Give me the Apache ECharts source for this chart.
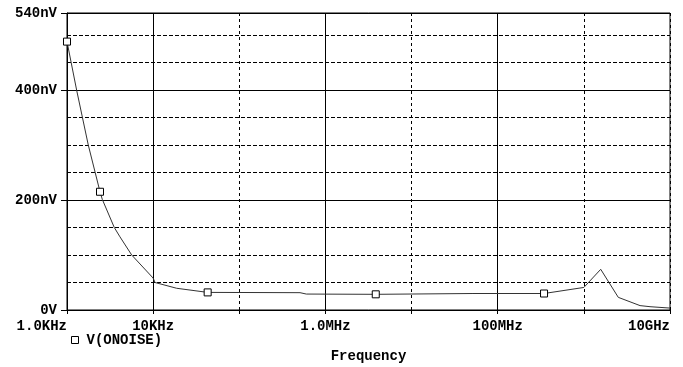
<!DOCTYPE html>
<html>
<head>
<meta charset="utf-8">
<script src="https://cdn.jsdelivr.net/npm/echarts@6/dist/echarts.min.js"></script>
<style>
  html, body { margin: 0; padding: 0; background: #fff; }
  #chart { width: 683px; height: 367px; }
</style>
</head>
<body>
<div id="chart"></div>
<script>
// Output noise V(ONOISE) versus frequency (Hz), in nV
const freqHz = [
  1000, 1297, 1766, 2416, 2570, 3540, 4120, 5636, 10000, 10520,
  18750, 42950, 507000, 600000, 3840000, 51600000, 345000000,
  1000000000, 1570000000, 2510000000, 4490000000, 5860000000, 10000000000
];
const noiseNV = [
  488, 399, 300, 215, 201, 150, 133, 100, 58, 50,
  39.5, 32, 31.5, 29, 28.5, 30, 30,
  41, 74, 23, 8, 6, 3.5
];
// indices of the points carrying the square trace marker
const markerIdx = [0, 3, 11, 14, 16];

// axis ticks and their labels
const xTickValues = [1e3, 1e4, 1e6, 1e8, 1e10];
const xTickLabels = ['1.0KHz', '10KHz', '1.0MHz', '100MHz', '10GHz'];
const xMajorLines = [1e4, 1e6, 1e8];
const yMin = 0, yMax = 540, yMajor = 200, yMinor = 50;

const FONT = { fontFamily: 'Liberation Mono', fontWeight: 'bold', fontSize: 14, color: '#000' };

const chart = echarts.init(document.getElementById('chart'), null, { renderer: 'canvas' });

const labelFor = v => {
  const e = Math.round(Math.log10(v));
  const i = xTickValues.findIndex(t => Math.round(Math.log10(t)) === e);
  return i >= 0 ? xTickLabels[i] : '';
};

chart.setOption({
  animation: false,
  backgroundColor: '#fff',
  grid: {
    left: 67, right: 13, top: 13, bottom: 57,
    outerBoundsMode: 'none', containLabel: false,
    show: true, borderColor: '#000', borderWidth: 1, backgroundColor: 'transparent'
  },
  legend: {
    left: 66, top: 328,
    itemWidth: 7, itemHeight: 7,
    icon: 'rect',
    itemStyle: { color: '#fff', borderColor: '#000', borderWidth: 1 },
    textStyle: { ...FONT, padding: [0, 0, 0, 3] },
    data: [{ name: 'V(ONOISE)', icon: 'rect' }]
  },
  xAxis: {
    type: 'log', logBase: 10,
    min: 1e3, max: 1e10, interval: 1,
    name: 'Frequency', nameLocation: 'middle', nameGap: 39,
    nameTextStyle: FONT,
    axisLine: { show: true, lineStyle: { color: '#000', width: 1 } },
    axisTick: { show: true, length: 4, lineStyle: { color: '#000' } },
    axisLabel: {
      ...FONT, margin: 9,
      alignMinLabel: 'right', alignMaxLabel: 'right',
      formatter: labelFor
    },
    splitLine: { show: true, lineStyle: { color: '#000', width: 1, type: [3, 3] } },
    minorTick: { show: false }
  },
  yAxis: [
    {
      type: 'value', min: yMin, max: yMax, interval: yMajor,
      axisLine: { show: true, lineStyle: { color: '#000' } },
      axisTick: { show: true, length: 6, lineStyle: { color: '#000' } },
      axisLabel: { ...FONT, margin: 10, formatter: v => v === 0 ? '0V' : v + 'nV' },
      splitLine: { show: true, lineStyle: { color: '#000', width: 1 } }
    },
    {
      type: 'value', min: yMin, max: yMax, interval: yMinor, position: 'left',
      axisLine: { show: false }, axisTick: { show: false }, axisLabel: { show: false },
      splitLine: { show: true, lineStyle: { color: '#000', width: 1, type: [4, 2] } }
    }
  ],
  series: [{
    name: 'V(ONOISE)',
    type: 'line',
    yAxisIndex: 0,
    data: freqHz.map((f, i) => [f, noiseNV[i]]),
    showAllSymbol: true,
    symbol: (val, p) => markerIdx.includes(p.dataIndex) ? 'rect' : 'none',
    symbolSize: 7,
    itemStyle: { color: '#fff', borderColor: '#000', borderWidth: 1 },
    lineStyle: { color: '#333', width: 1 },
    z: 5,
    markLine: {
      silent: true, symbol: 'none', label: { show: false },
      lineStyle: { color: '#000', width: 1, type: 'solid' },
      data: xMajorLines.map(v => ({ xAxis: v }))
    }
  }]
});
</script>
</body>
</html>
